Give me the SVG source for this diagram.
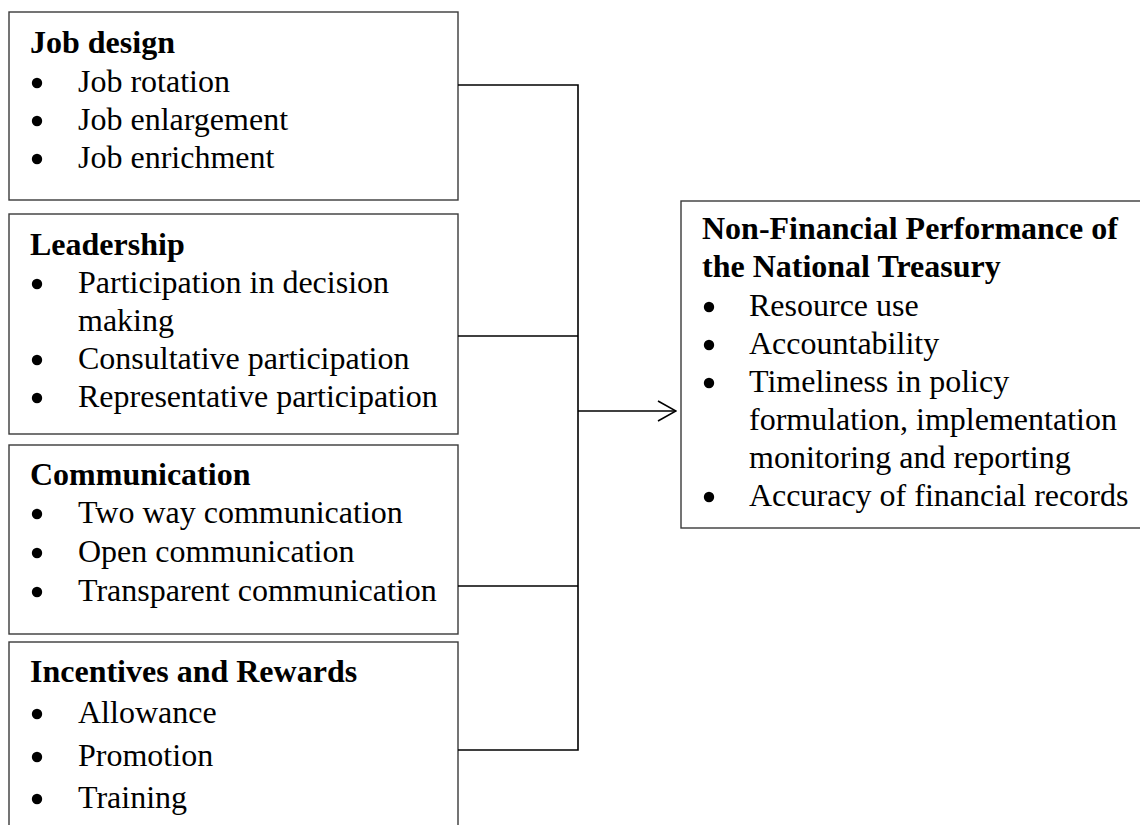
<svg xmlns="http://www.w3.org/2000/svg" width="1140" height="825" viewBox="0 0 1140 825">
  <style>
    .box { fill: #ffffff; stroke: #3a3a3a; stroke-width: 1.4; }
    .head { font-family: "Liberation Serif", "Times New Roman", serif; font-size: 32px; font-weight: bold; fill: #000; }
    .item { font-family: "Liberation Serif", "Times New Roman", serif; font-size: 32px; fill: #000; }
    .dot { fill: #000; }
    .wire { fill: none; stroke: #000; stroke-width: 1.6; }
  </style>
  <defs>
    <marker id="open-arrow" viewBox="0 0 20 22" refX="19" refY="11" markerWidth="20" markerHeight="22" markerUnits="userSpaceOnUse" orient="auto">
      <path d="M1,1 L19,11 L1,21" fill="none" stroke="#000" stroke-width="1.6"/>
    </marker>
  </defs>
  <rect width="1140" height="825" fill="#ffffff"/>

  <!-- Job design -->
  <g id="job-design">
    <rect class="box" x="9" y="12" width="449" height="188"/>
    <text class="head" x="30" y="53">Job design</text>
    <circle class="dot" cx="37" cy="83" r="5.2"/>
    <text class="item" x="78" y="92">Job rotation</text>
    <circle class="dot" cx="37" cy="121" r="5.2"/>
    <text class="item" x="78" y="130">Job enlargement</text>
    <circle class="dot" cx="37" cy="159" r="5.2"/>
    <text class="item" x="78" y="168">Job enrichment</text>
  </g>

  <!-- Leadership -->
  <g id="leadership">
    <rect class="box" x="9" y="214" width="449" height="220"/>
    <text class="head" x="30" y="255">Leadership</text>
    <circle class="dot" cx="37" cy="284" r="5.2"/>
    <text class="item" x="78" y="293">Participation in decision</text>
    <text class="item" x="78" y="331">making</text>
    <circle class="dot" cx="37" cy="360" r="5.2"/>
    <text class="item" x="78" y="369">Consultative participation</text>
    <circle class="dot" cx="37" cy="398" r="5.2"/>
    <text class="item" x="78" y="407">Representative participation</text>
  </g>

  <!-- Communication -->
  <g id="communication">
    <rect class="box" x="9" y="445" width="449" height="189"/>
    <text class="head" x="30" y="485">Communication</text>
    <circle class="dot" cx="37" cy="514" r="5.2"/>
    <text class="item" x="78" y="523">Two way communication</text>
    <circle class="dot" cx="37" cy="553" r="5.2"/>
    <text class="item" x="78" y="562">Open communication</text>
    <circle class="dot" cx="37" cy="592" r="5.2"/>
    <text class="item" x="78" y="601">Transparent communication</text>
  </g>

  <!-- Incentives and Rewards -->
  <g id="incentives-rewards">
    <rect class="box" x="9" y="642" width="449" height="200"/>
    <text class="head" x="30" y="682">Incentives and Rewards</text>
    <circle class="dot" cx="37" cy="714" r="5.2"/>
    <text class="item" x="78" y="723">Allowance</text>
    <circle class="dot" cx="37" cy="757" r="5.2"/>
    <text class="item" x="78" y="766">Promotion</text>
    <circle class="dot" cx="37" cy="799" r="5.2"/>
    <text class="item" x="78" y="808">Training</text>
  </g>

  <!-- Non-Financial Performance -->
  <g id="non-financial-performance">
    <rect class="box" x="681" y="201" width="480" height="327"/>
    <text class="head" x="702" y="239">Non-Financial Performance of</text>
    <text class="head" x="702" y="277">the National Treasury</text>
    <circle class="dot" cx="709" cy="307" r="5.2"/>
    <text class="item" x="749" y="316">Resource use</text>
    <circle class="dot" cx="709" cy="345" r="5.2"/>
    <text class="item" x="749" y="354">Accountability</text>
    <circle class="dot" cx="709" cy="383" r="5.2"/>
    <text class="item" x="749" y="392">Timeliness in policy</text>
    <text class="item" x="749" y="430">formulation, implementation</text>
    <text class="item" x="749" y="468">monitoring and reporting</text>
    <circle class="dot" cx="709" cy="497" r="5.2"/>
    <text class="item" x="749" y="506">Accuracy of financial records</text>
  </g>

  <!-- Connectors -->
  <g id="connectors">
    <path class="wire" d="M458,85 H578 V750 H458"/>
    <path class="wire" d="M458,336 H578"/>
    <path class="wire" d="M458,586 H578"/>
    <path class="wire" d="M578,411 H676" marker-end="url(#open-arrow)"/>
  </g>
</svg>
